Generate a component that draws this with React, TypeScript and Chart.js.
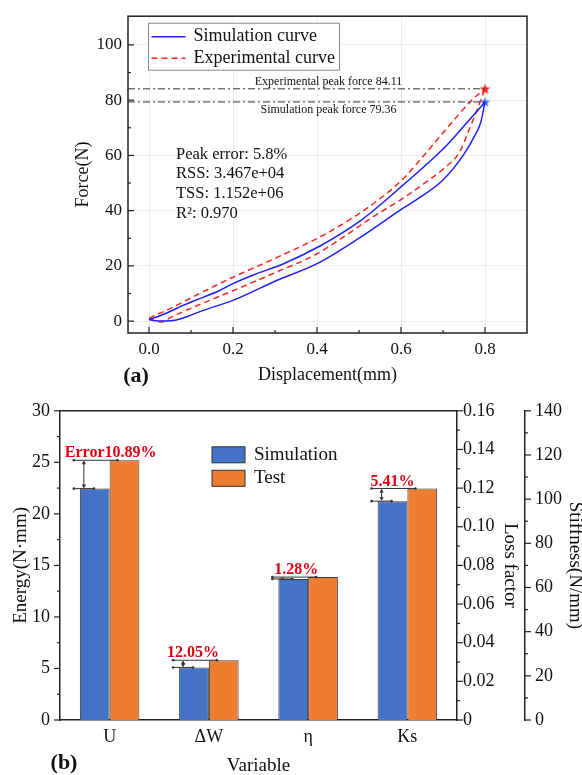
import React, { useEffect, useRef } from "react";
import { Chart, registerables } from "chart.js";

Chart.register(...registerables);

const FONT = "'Liberation Serif', 'Times New Roman', serif";
const INK = "#111111";

// ---------------- Panel (a) data ----------------
const simLoadDisp = [0, 0.02, 0.05, 0.081, 0.105, 0.168, 0.2, 0.25, 0.319, 0.407, 0.502, 0.606, 0.709, 0.752, 0.8];
const simLoadForce = [0.6, 1.6, 3.5, 5.7, 7.2, 11.1, 13.6, 16.8, 20.7, 27.2, 36.2, 49.4, 63.7, 71.0, 79.36];
const simUnloadDisp = [0, 0.015, 0.04, 0.065, 0.09, 0.129, 0.2, 0.304, 0.399, 0.502, 0.606, 0.637, 0.7, 0.748, 0.775, 0.79, 0.8];
const simUnloadForce = [0.6, 0.1, 0.0, 0.4, 1.6, 3.9, 7.5, 14.7, 20.7, 30.2, 41.0, 44.0, 51.1, 60.0, 67.0, 72.0, 79.36];
const expLoadDisp = [0, 0.01, 0.05, 0.105, 0.2, 0.304, 0.423, 0.542, 0.606, 0.66, 0.713, 0.772, 0.8];
const expLoadForce = [1.0, 1.8, 4.5, 8.8, 15.9, 23.0, 31.8, 43.4, 51.7, 61.0, 70.5, 80.5, 84.11];
const expUnloadDisp = [0, 0.012, 0.03, 0.05, 0.105, 0.2, 0.304, 0.4, 0.542, 0.6, 0.661, 0.7, 0.74, 0.76, 0.78, 0.8];
const expUnloadForce = [1.0, 0.2, -0.3, 1.2, 5.0, 11.0, 17.8, 24.4, 38.6, 44.0, 50.5, 55.0, 61.3, 68.5, 76.0, 84.11];
const peakDisp = 0.8;
const expPeakForce = 84.11;
const simPeakForce = 79.36;
const dispTicks = [0, 0.2, 0.4, 0.6, 0.8];
const dispMinorTicks = [0.1, 0.3, 0.5, 0.7];
const forceTicks = [0, 20, 40, 60, 80, 100];
const forceMinorTicks = [10, 30, 50, 70, 90];
const dispRange = [-0.05, 0.9];
const forceRange = [-4.3, 110.4];
const statsLines = ["Peak error: 5.8%", "RSS: 3.467e+04", "TSS: 1.152e+06", "R\u00b2: 0.970"];
const legendA = ["Simulation curve", "Experimental curve"];

// ---------------- Panel (b) data ----------------
const variables = ["U", "\u0394W", "\u03b7", "Ks"];
const axisOfVariable = ["y", "y", "y1", "y2"];
const simulationValues = [22.45, 5.1, 0.073, 99.1];
const testValues = [25.2, 5.8, 0.07395, 104.8];
const errorLabels = ["Error10.89%", "12.05%", "1.28%", "5.41%"];
const errorLabelShift = [15, 12, 4, 7];
const energyTicks = [0, 5, 10, 15, 20, 25, 30];
const energyMinor = [2.5, 7.5, 12.5, 17.5, 22.5, 27.5];
const lossTicks = [0, 0.02, 0.04, 0.06, 0.08, 0.1, 0.12, 0.14, 0.16];
const lossMinor = [0.01, 0.03, 0.05, 0.07, 0.09, 0.11, 0.13, 0.15];
const stiffTicks = [0, 20, 40, 60, 80, 100, 120, 140];
const stiffMinor = [10, 30, 50, 70, 90, 110, 130];
const seriesNames = ["Simulation", "Test"];

const BLUE_LINE = "#1f1fff";
const RED_LINE = "#ff2222";
const BAR_BLUE = "#4472C4";
const BAR_ORANGE = "#ED7D31";
const ERR_RED = "#e0000f";

const pts = (xs: number[], ys: number[]) => xs.map((x, i) => ({ x, y: ys[i] }));

function makeStar(color: string, size: number) {
  const c = document.createElement("canvas");
  c.width = size;
  c.height = size;
  const g = c.getContext("2d")!;
  const r = size / 2;
  const ri = r * 0.45;
  g.beginPath();
  for (let k = 0; k < 10; k++) {
    const rad = k % 2 === 0 ? r : ri;
    const a = -Math.PI / 2 + (k * Math.PI) / 5;
    const px = r + rad * Math.cos(a);
    const py = r + 0.5 + rad * Math.sin(a);
    if (k === 0) g.moveTo(px, py);
    else g.lineTo(px, py);
  }
  g.closePath();
  g.fillStyle = color;
  g.fill();
  return c;
}

function line(ctx: CanvasRenderingContext2D, x1: number, y1: number, x2: number, y2: number) {
  ctx.beginPath();
  ctx.moveTo(x1, y1);
  ctx.lineTo(x2, y2);
  ctx.stroke();
}

const panelAPlugin = {
  id: "panelA",
  afterDraw(chart: any) {
    const { ctx, chartArea: ca, scales } = chart;
    const x = scales.x;
    const y = scales.y;
    ctx.save();
    ctx.strokeStyle = "#222";
    ctx.lineWidth = 1.5;
    ctx.strokeRect(ca.left, ca.top, ca.right - ca.left, ca.bottom - ca.top);
    ctx.lineWidth = 1.2;
    dispTicks.forEach((v) => { const p = x.getPixelForValue(v); line(ctx, p, ca.bottom, p, ca.bottom - 6); });
    dispMinorTicks.forEach((v) => { const p = x.getPixelForValue(v); line(ctx, p, ca.bottom, p, ca.bottom - 3); });
    forceTicks.forEach((v) => { const p = y.getPixelForValue(v); line(ctx, ca.left, p, ca.left + 6, p); });
    forceMinorTicks.forEach((v) => { const p = y.getPixelForValue(v); line(ctx, ca.left, p, ca.left + 3, p); });

    const lx = ca.left + 20.5;
    const ly = ca.top + 7;
    ctx.fillStyle = "#fff";
    ctx.fillRect(lx, ly, 191, 47);
    ctx.strokeStyle = "#8a8a8a";
    ctx.lineWidth = 1;
    ctx.strokeRect(lx, ly, 191, 47);
    ctx.lineWidth = 1.5;
    ctx.strokeStyle = BLUE_LINE;
    line(ctx, lx + 3, ly + 13.5, lx + 37, ly + 13.5);
    ctx.strokeStyle = RED_LINE;
    ctx.setLineDash([6, 4]);
    line(ctx, lx + 3, ly + 35, lx + 37, ly + 35);
    ctx.setLineDash([]);
    ctx.fillStyle = INK;
    ctx.font = `18px ${FONT}`;
    ctx.textBaseline = "middle";
    ctx.textAlign = "left";
    ctx.fillText(legendA[0], lx + 45, ly + 13.5);
    ctx.fillText(legendA[1], lx + 45, ly + 35);

    const cx = (ca.left + ca.right) / 2;
    ctx.font = `12px ${FONT}`;
    ctx.textAlign = "center";
    ctx.textBaseline = "bottom";
    ctx.fillText(`Experimental peak force ${expPeakForce}`, cx + 1, y.getPixelForValue(expPeakForce) - 1);
    ctx.textBaseline = "top";
    ctx.fillText(`Simulation peak force ${simPeakForce}`, cx + 1, y.getPixelForValue(simPeakForce) + 2);

    ctx.font = `16.5px ${FONT}`;
    ctx.textAlign = "left";
    ctx.textBaseline = "middle";
    statsLines.forEach((s, i) => ctx.fillText(s, ca.left + 48, ca.top + 138 + i * 19.8));

    ctx.font = `bold 22px ${FONT}`;
    ctx.textAlign = "center";
    ctx.fillText("(a)", ca.left + 8, ca.bottom + 43);
    ctx.restore();
  },
};

const panelBPlugin = {
  id: "panelB",
  afterDraw(chart: any) {
    const { ctx, chartArea: ca, scales } = chart;
    ctx.save();
    ctx.strokeStyle = "#222";
    ctx.lineWidth = 1.5;
    line(ctx, ca.left, ca.top, ca.right, ca.top);
    ctx.lineWidth = 1.2;
    const yl = scales.y;
    energyTicks.forEach((v) => { const p = yl.getPixelForValue(v); line(ctx, ca.left, p, ca.left - 6, p); });
    energyMinor.forEach((v) => { const p = yl.getPixelForValue(v); line(ctx, ca.left, p, ca.left - 3, p); });
    const y1 = scales.y1;
    lossTicks.forEach((v) => { const p = y1.getPixelForValue(v); line(ctx, y1.left, p, y1.left + 6, p); });
    lossMinor.forEach((v) => { const p = y1.getPixelForValue(v); line(ctx, y1.left, p, y1.left + 3, p); });
    const y2 = scales.y2;
    stiffTicks.forEach((v) => { const p = y2.getPixelForValue(v); line(ctx, y2.left, p, y2.left + 6, p); });
    stiffMinor.forEach((v) => { const p = y2.getPixelForValue(v); line(ctx, y2.left, p, y2.left + 3, p); });

    const axes = ["y", "y1", "y2"];
    variables.forEach((_, i) => {
      const ax = axisOfVariable[i];
      const sc = scales[ax];
      const simMeta = chart.getDatasetMeta(axes.indexOf(ax));
      const testMeta = chart.getDatasetMeta(3 + axes.indexOf(ax));
      const sb = simMeta.data[i];
      const tb = testMeta.data[i];
      if (!sb || !tb) return;
      const left = sb.x - sb.width / 2;
      const tLeft = tb.x - tb.width / 2;
      const pS = sc.getPixelForValue(simulationValues[i]);
      const pT = sc.getPixelForValue(testValues[i]);
      ctx.strokeStyle = "#333";
      ctx.fillStyle = "#333";
      ctx.lineWidth = 1;
      line(ctx, left - 6, pT, tLeft + 8, pT);
      line(ctx, left - 6, pS, left + 14, pS);
      [left - 6, left + 14].forEach((xx) => { ctx.beginPath(); ctx.arc(xx, pS, 1.3, 0, Math.PI * 2); ctx.fill(); });
      [left - 6, tLeft + 8].forEach((xx) => { ctx.beginPath(); ctx.arc(xx, pT, 1.3, 0, Math.PI * 2); ctx.fill(); });
      const ax0 = left + 4;
      line(ctx, ax0, pT + 1, ax0, pS - 1);
      const h = Math.min(3.5, Math.abs(pS - pT) / 2);
      if (h > 0.8) {
        ctx.beginPath(); ctx.moveTo(ax0, pT + 0.5); ctx.lineTo(ax0 - 2.2, pT + 0.5 + h); ctx.lineTo(ax0 + 2.2, pT + 0.5 + h); ctx.closePath(); ctx.fill();
        ctx.beginPath(); ctx.moveTo(ax0, pS - 0.5); ctx.lineTo(ax0 - 2.2, pS - 0.5 - h); ctx.lineTo(ax0 + 2.2, pS - 0.5 - h); ctx.closePath(); ctx.fill();
      }
      ctx.fillStyle = ERR_RED;
      ctx.font = `bold 16px ${FONT}`;
      ctx.textAlign = "left";
      ctx.textBaseline = "alphabetic";
      ctx.fillText(errorLabels[i], left - errorLabelShift[i], pT - 3);
    });

    const lx = ca.left + 152;
    const ly = ca.top + 36;
    [BAR_BLUE, BAR_ORANGE].forEach((c, k) => {
      ctx.fillStyle = c;
      ctx.fillRect(lx, ly + k * 23.5, 33, 16);
      ctx.strokeStyle = "#333";
      ctx.lineWidth = 1;
      ctx.strokeRect(lx, ly + k * 23.5, 33, 16);
    });
    ctx.fillStyle = INK;
    ctx.font = `19px ${FONT}`;
    ctx.textAlign = "left";
    ctx.textBaseline = "middle";
    seriesNames.forEach((s, k) => ctx.fillText(s, lx + 42, ly + 8 + k * 23.5));

    ctx.font = `bold 22px ${FONT}`;
    ctx.textAlign = "center";
    ctx.fillText("(b)", ca.left + 4, ca.bottom + 43);
    ctx.restore();
  },
};

const tickFont = (size: number) => ({ family: FONT, size });

function PanelA() {
  const ref = useRef<HTMLCanvasElement>(null);
  useEffect(() => {
    const starRed = makeStar(RED_LINE, 11);
    const starBlue = makeStar("#3b82ff", 11);
    const curve = (xs: number[], ys: number[], color: string, dashed: boolean) => ({
      data: pts(xs, ys),
      showLine: true,
      borderColor: color,
      borderWidth: 1.5,
      borderDash: dashed ? [6, 4] : [],
      pointRadius: 0,
      cubicInterpolationMode: "monotone",
    });
    const peakLine = (f: number) => ({
      data: [{ x: dispRange[0], y: f }, { x: peakDisp, y: f }],
      showLine: true,
      borderColor: "#333",
      borderWidth: 1,
      borderDash: [7, 3, 2, 3],
      pointRadius: 0,
    });
    const chart = new Chart(ref.current!, {
      type: "scatter",
      data: {
        datasets: [
          peakLine(expPeakForce),
          peakLine(simPeakForce),
          curve(simLoadDisp, simLoadForce, BLUE_LINE, false),
          curve(simUnloadDisp, simUnloadForce, BLUE_LINE, false),
          curve(expLoadDisp, expLoadForce, RED_LINE, true),
          curve(expUnloadDisp, expUnloadForce, RED_LINE, true),
          { data: [{ x: peakDisp, y: expPeakForce }], pointStyle: starRed as any, pointRadius: 6 },
          { data: [{ x: peakDisp, y: simPeakForce }], pointStyle: starBlue as any, pointRadius: 6 },
        ] as any,
      },
      options: {
        responsive: false,
        animation: false,
        devicePixelRatio: 1,
        layout: { padding: { top: 13, right: 55, left: 0, bottom: 0 } },
        plugins: { legend: { display: false }, tooltip: { enabled: false } },
        scales: {
          x: {
            type: "linear",
            min: dispRange[0],
            max: dispRange[1],
            afterBuildTicks: (s: any) => { s.ticks = dispTicks.map((v) => ({ value: v })); },
            afterFit: (s: any) => { s.height = 57; },
            ticks: { callback: (v: any) => Number(v).toFixed(1), font: tickFont(17), color: INK, padding: 6, maxRotation: 0, autoSkip: false },
            grid: { color: "#ececec", drawTicks: false },
            border: { display: false },
            title: { display: true, text: "Displacement(mm)", font: tickFont(18), color: INK, padding: { top: 0, bottom: 4 } },
          },
          y: {
            type: "linear",
            min: forceRange[0],
            max: forceRange[1],
            afterBuildTicks: (s: any) => { s.ticks = forceTicks.map((v) => ({ value: v })); },
            afterFit: (s: any) => { s.width = 128; },
            ticks: { font: tickFont(17), color: INK, padding: 6, autoSkip: false },
            grid: { color: "#ececec", drawTicks: false },
            border: { display: false },
            title: { display: true, text: "Force(N)", font: tickFont(18), color: INK, padding: { top: 72, bottom: 0 } },
          },
        },
      } as any,
      plugins: [panelAPlugin],
    });
    return () => chart.destroy();
  }, []);
  return <canvas ref={ref} width={582} height={390} style={{ position: "absolute", left: 0, top: 0, width: 582, height: 390 }} />;
}

function PanelB() {
  const ref = useRef<HTMLCanvasElement>(null);
  useEffect(() => {
    const axes = ["y", "y1", "y2"];
    const datasets: any[] = [];
    [simulationValues, testValues].forEach((vals, s) => {
      axes.forEach((ax) => {
        datasets.push({
          label: seriesNames[s],
          yAxisID: ax,
          data: vals.map((v, i) => (axisOfVariable[i] === ax ? v : null)),
          backgroundColor: s === 0 ? BAR_BLUE : BAR_ORANGE,
          borderColor: "#3a3a3a",
          borderWidth: 1,
        });
      });
    });
    const rightAxis = (min: number, max: number, ticks: number[], title: string, width: number, pad: number, tpad: number, dec: number) => ({
      type: "linear",
      position: "right",
      min,
      max,
      afterBuildTicks: (s: any) => { s.ticks = ticks.map((v) => ({ value: v })); },
      afterFit: (s: any) => { s.width = width; },
      ticks: { callback: (v: any) => (dec > 0 && v !== 0 ? Number(v).toFixed(dec) : String(v)), font: tickFont(18), color: INK, padding: pad, autoSkip: false },
      grid: { display: false, drawTicks: false },
      border: { color: "#222", width: 1.5 },
      title: { display: true, text: title, font: tickFont(19), color: INK, padding: { top: tpad, bottom: 0 } },
    });
    const chart = new Chart(ref.current!, {
      type: "bar",
      data: { labels: variables, datasets },
      options: {
        responsive: false,
        animation: false,
        devicePixelRatio: 1,
        layout: { padding: { top: 11, right: 0, left: 0, bottom: 0 } },
        datasets: { bar: { categoryPercentage: 0.6, barPercentage: 1, skipNull: true } },
        plugins: { legend: { display: false }, tooltip: { enabled: false } },
        scales: {
          x: {
            afterFit: (s: any) => { s.height = 55; },
            ticks: { font: tickFont(18), color: INK, padding: 6.5 },
            grid: { display: false, drawTicks: false },
            border: { color: "#222", width: 1.5 },
            title: { display: true, text: "Variable", font: tickFont(19), color: INK, padding: { top: 0, bottom: -2 } },
          },
          y: {
            type: "linear",
            position: "left",
            min: 0,
            max: 30,
            afterBuildTicks: (s: any) => { s.ticks = energyTicks.map((v) => ({ value: v })); },
            afterFit: (s: any) => { s.width = 60; },
            ticks: { font: tickFont(18), color: INK, padding: 10, autoSkip: false },
            grid: { display: false, drawTicks: false },
            border: { color: "#222", width: 1.5 },
            title: { display: true, text: "Energy(N\u00b7mm)", font: tickFont(19), color: INK, padding: { top: 10, bottom: 0 } },
          },
          y1: rightAxis(0, 0.16, lossTicks, "Loss factor", 68, 6, 3.6, 2),
          y2: rightAxis(0, 140, stiffTicks, "Stiffness(N/mm)", 57, 10, -4.4, 0),
        },
      } as any,
      plugins: [panelBPlugin],
    });
    return () => chart.destroy();
  }, []);
  return <canvas ref={ref} width={582} height={385} style={{ position: "absolute", left: 0, top: 390, width: 582, height: 385 }} />;
}

export default function App() {
  return (
    <div style={{ position: "absolute", left: 0, top: 0, width: 582, height: 775, overflow: "hidden", background: "#fff" }}>
      <PanelA />
      <PanelB />
    </div>
  );
}
